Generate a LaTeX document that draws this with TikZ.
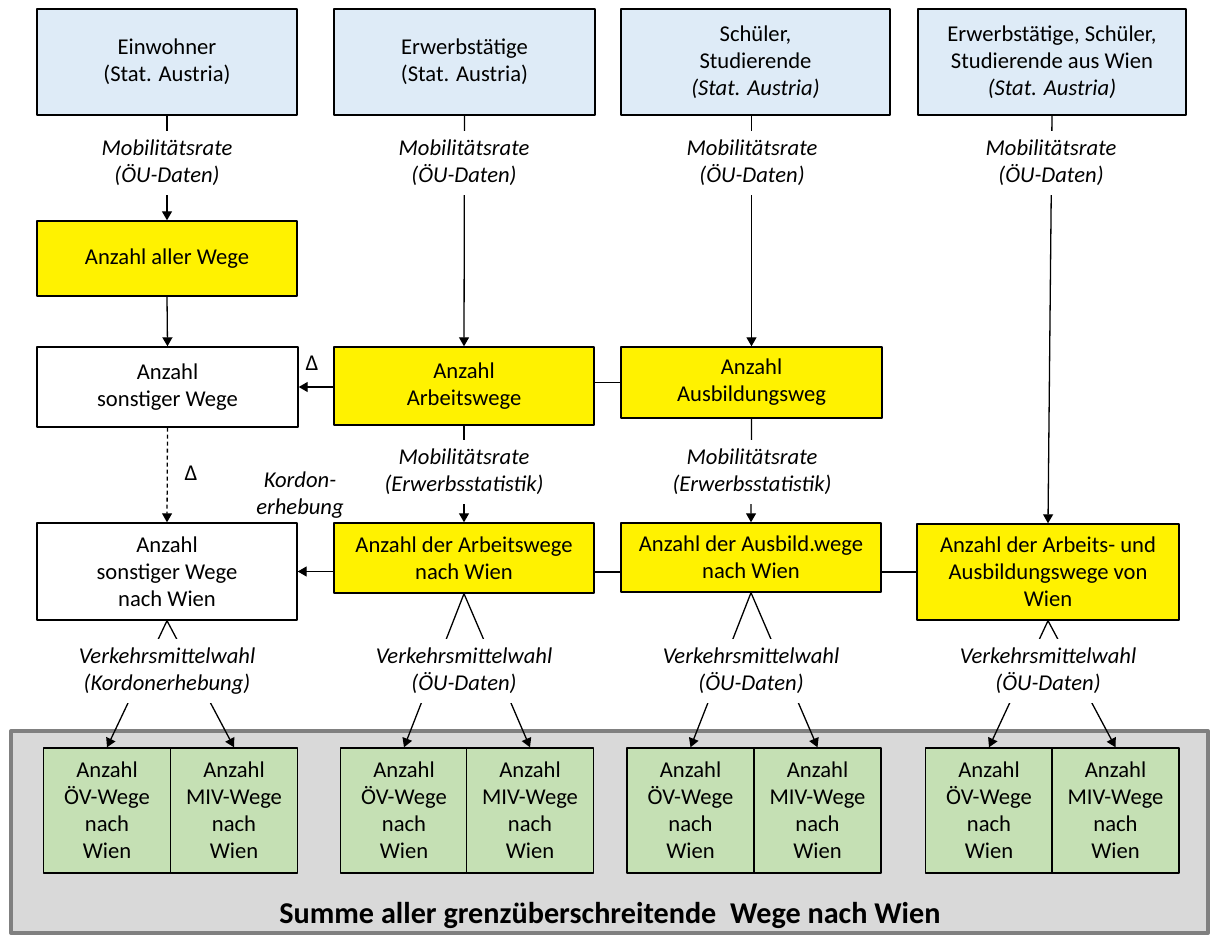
\documentclass[tikz,border=0pt]{standalone}
\usepackage{fontspec}
\setmainfont{Carlito}
\usetikzlibrary{arrows.meta}
\definecolor{hellblau}{HTML}{DEEBF7}
\definecolor{gruen}{HTML}{C5E0B4}
\definecolor{bandgrau}{HTML}{D9D9D9}
\definecolor{randgrau}{HTML}{808080}
\newcommand\grund{\fontsize{11.3}{13.5}\selectfont}
\tikzset{
  kasten/.style={draw, line width=0.7pt, align=center, inner sep=1pt, minimum width=130pt},
  quelle/.style={kasten, fill=hellblau, minimum height=53pt},
  wege/.style={kasten, fill=yellow},
  leer/.style={kasten, fill=white},
  vm/.style={kasten, fill=gruen, minimum width=63.5pt, minimum height=62.5pt},
  lbl/.style={fill=white, align=center, font=\grund\itshape, inner xsep=2pt, inner ysep=4.5pt},
  pfeil/.style={-{Triangle[length=4.5pt,width=5pt]}}
}
\begin{document}
\begin{tikzpicture}[x=0.5pt, y=-0.5pt, line width=0.65pt, line join=round, font=\grund]
\useasboundingbox (0,0) rectangle (1211,936);
% grauer Bereich unten
\node[draw=randgrau, line width=2pt, fill=bandgrau, minimum width=598.5pt, minimum height=101pt] (band) at (609.5,832) {};
\node[font=\fontsize{15.1}{18}\selectfont\bfseries] (summe) at (610,915) {Summe aller grenzüberschreitende\ \ Wege nach Wien};
% Quellen
\node[quelle] (ew) at (167,62) {Einwohner\\(Stat. Austria)};
\node[quelle, minimum width=130.5pt] (et) at (464.5,62) {Erwerbstätige\\(Stat. Austria)};
\node[quelle, minimum width=134.5pt] (sch) at (755.5,62) {Schüler,\\Studierende\\\textit{(Stat. Austria)}};
\node[quelle, minimum width=134pt] (esw) at (1052,62) {Erwerbstätige, Schüler,\\Studierende aus Wien\\\textit{(Stat. Austria)}};
% Wege
\node[wege, minimum height=37.5pt] (alle) at (167,258.5) {Anzahl aller Wege};
\node[leer, minimum width=130.5pt, minimum height=40pt] (sonst) at (167.5,387) {Anzahl\\sonstiger Wege};
\node[wege, minimum height=39pt] (arb) at (464,386) {Anzahl\\Arbeitswege};
\node[wege, minimum width=130.5pt, minimum height=35.5pt] (ausb) at (751.5,382.5) {Anzahl\\Ausbildungsweg};
\node[leer, minimum height=48.5pt] (sonstW) at (167,571.5) {Anzahl\\sonstiger Wege\\nach Wien};
\node[wege, minimum height=35pt] (arbW) at (464,558) {Anzahl der Arbeitswege\\nach Wien};
\node[wege, minimum height=34.5pt] (ausbW) at (751,557.5) {Anzahl der Ausbild.wege\\nach Wien};
\node[wege, minimum width=131pt, minimum height=48pt] (allW) at (1048,572) {Anzahl der Arbeits- und\\Ausbildungswege von\\Wien};
% Verbindungen
\draw[pfeil] (ew.south) -- (alle.north);
\draw[pfeil] (et.south) -- (arb.north);
\draw[pfeil] (sch.south -| ausb.north) -- (ausb.north);
\draw[pfeil] (esw.south) -- (allW.north);
\draw[pfeil] (alle.south) -- (sonst.north);
\draw[pfeil] (arb.west |- sonst.east) -- (sonst.east);
\draw[pfeil, dash pattern=on 2pt off 1.5pt] (sonst.south) -- (sonstW.north);
\draw (ausb.west) -- (ausb.west -| arb.east);
\draw[pfeil] (arb.south) -- (arbW.north);
\draw[pfeil] (ausb.south) -- (ausbW.north);
\draw[pfeil] (sonstW.east -| arbW.west) -- (sonstW.east);
\draw (arbW.east |- allW.west) -- (ausbW.west |- allW.west);
\draw (ausbW.east |- allW.west) -- (allW.west);
% Beschriftungen
\foreach \n/\x in {1/167, 2/464, 3/752, 4/1051}
  \node[lbl] (mr\n) at (\x,163) {Mobilitätsrate\\(ÖU-Daten)};
\node[lbl] (ms1) at (464,472) {Mobilitätsrate\\(Erwerbsstatistik)};
\node[lbl] (ms2) at (752,472) {Mobilitätsrate\\(Erwerbsstatistik)};
\node (d1) at (312,363) {Δ};
\node (d2) at (191,473) {Δ};
\node[align=center, font=\grund\itshape] (kordon) at (300,495) {Kordon-\\erhebung};
% Verkehrsmittelwahl
\coordinate (vmrow) at (0,671);
\foreach \n/\xo/\xm/\src/\dat in {1/107/234/sonstW/Kordonerhebung, 2/404/530/arbW/ÖU-Daten, 3/690.5/817.5/ausbW/ÖU-Daten, 4/989/1115.5/allW/ÖU-Daten}{
  \node[vm] (oev\n) at (\xo,810.5) {Anzahl\\ÖV-Wege\\nach\\Wien};
  \node[vm] (miv\n) at (\xm,810.5) {Anzahl\\MIV-Wege\\nach\\Wien};
  \draw[pfeil] (\src.south) -- (oev\n.north);
  \draw[pfeil] (\src.south) -- (miv\n.north);
  \node[lbl] (vmw\n) at (\src.south |- vmrow) {Verkehrsmittelwahl\\(\dat)};
}
\end{tikzpicture}
\end{document}
